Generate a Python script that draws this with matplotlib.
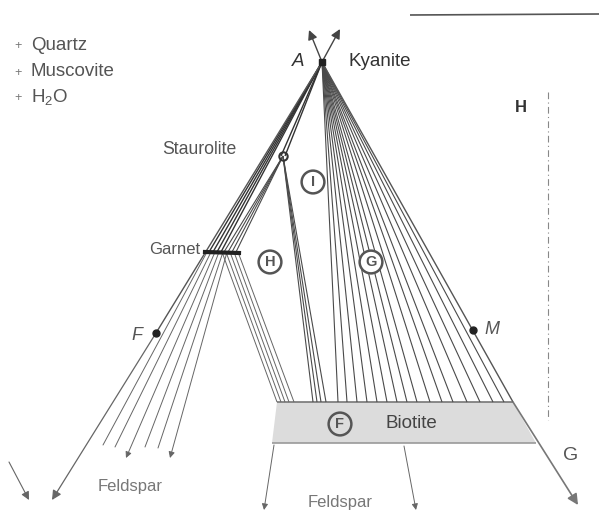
import matplotlib
matplotlib.use("Agg")
import matplotlib.pyplot as plt
from matplotlib.patches import Polygon

plt.rcParams['font.family'] = ['Liberation Sans', 'DejaVu Sans']
plt.rcParams['mathtext.default'] = 'regular'

# 图中各点的位置（像素坐标，y 向下）
kyanite = (322, 62)
staurolite = (283, 156)
point_F = (156, 333)
point_M = (473, 330)
garnet_bar_x = [205, 239]
garnet_y = 252

# 黑云母带（上边、下边）
biotite_top_y = 402
biotite_bot_y = 443
biotite_top_x = [277, 513]
biotite_bot_x = [272, 536]

# 连线端点
ky_to_garnet_x = [209, 213, 217, 221]
ky_to_biotite_x = [338, 347, 357, 367, 377, 387, 397, 407, 417, 430, 442, 453, 467, 480, 493, 504]
st_to_garnet_x = [224, 228, 232, 236]
st_to_biotite_x = [313, 317, 321, 326]
ga_to_biotite = [(222, 277), (226, 281), (230, 285), (234, 289), (238, 294)]
ga_to_feldspar = [(207, 103, 445), (211, 115, 447), (215, 126, 458),
                  (219, 145, 447), (223, 158, 448), (227, 170, 458)]
feldspar_arrow_heads = [False, False, True, False, False, True]
biotite_arrows = [((274, 445), (264, 510)), ((404, 446), (416, 510))]
end_F = (52, 500)
end_M = (578, 505)
up_arrows = [(309, 30), (340, 29)]
stray_arrow = ((9, 462), (29, 500))

# 左上角的附加相
extra_phases = ['Quartz', 'Muscovite', 'H$_2$O']
extra_y = [45, 72, 97]

line_c = '#4a4a4a'
txt_c = '#555555'

fig = plt.figure(figsize=(5.99, 5.15), dpi=100)
ax = fig.add_axes([0, 0, 1, 1])
ax.set_xlim(0, 599)
ax.set_ylim(515, 0)
ax.axis('off')


def seg(p, q, lw=0.8, c=line_c, z=2):
    ax.plot([p[0], q[0]], [p[1], q[1]], color=c, lw=lw, zorder=z, solid_capstyle='butt')


def arrow(p, q, lw=0.8, c='#666666', head=True, ms=12):
    style = '-|>' if head else '-'
    ax.annotate('', xy=q, xytext=p,
                arrowprops=dict(arrowstyle=style, color=c, lw=lw, mutation_scale=ms,
                                shrinkA=0, shrinkB=0))


# 黑云母带
band = Polygon([(biotite_top_x[0], biotite_top_y), (biotite_top_x[1], biotite_top_y),
                (biotite_bot_x[1], biotite_bot_y), (biotite_bot_x[0], biotite_bot_y)],
               closed=True, fc='#dcdcdc', ec='none', zorder=1)
ax.add_patch(band)
seg((biotite_top_x[0], biotite_top_y), (biotite_top_x[1], biotite_top_y), lw=1.2, c='#777777')
seg((biotite_bot_x[0], biotite_bot_y), (biotite_bot_x[1], biotite_bot_y), lw=1.2, c='#999999')

# 蓝晶石 -> 石榴子石 / 黑云母
for x in ky_to_garnet_x:
    seg(kyanite, (x, garnet_y), lw=1.0, c='#333333')
for x in ky_to_biotite_x:
    seg(kyanite, (x, biotite_top_y))
for dx in [-2, 2]:
    seg(kyanite, (staurolite[0] + dx, staurolite[1]), lw=1.0, c='#333333')

# 十字石
for x in st_to_garnet_x:
    seg(staurolite, (x, garnet_y))
for x in st_to_biotite_x:
    seg(staurolite, (x, biotite_top_y))

# 石榴子石 -> 黑云母
for gx, bx in ga_to_biotite:
    seg((gx, garnet_y), (bx, biotite_top_y), lw=0.7, c='#666666')

# 石榴子石 -> 长石
for (gx, fx, fy), hd in zip(ga_to_feldspar, feldspar_arrow_heads):
    arrow((gx, garnet_y), (fx, fy), lw=0.7, head=hd, ms=9)

# 外侧两条边
seg(kyanite, point_F, lw=1.0, c='#555555')
arrow(point_F, end_F, lw=0.9, ms=14)
seg(kyanite, (biotite_top_x[1], biotite_top_y), lw=1.0, c='#555555')
arrow((biotite_top_x[1], biotite_top_y), end_M, lw=1.2, c='#777777', ms=16)

# 向上的箭头
for tip in up_arrows:
    arrow(kyanite, tip, lw=1.0, c='#444444', ms=14)
arrow(stray_arrow[0], stray_arrow[1], lw=0.8, ms=12)
for p, q in biotite_arrows:
    arrow(p, q, lw=0.7, ms=9)

# 点
ax.plot([garnet_bar_x[0], garnet_bar_x[1]], [garnet_y, garnet_y + 1], color='#222222', lw=3, zorder=3)
ax.plot(*staurolite, marker='o', ms=6, mfc='none', mec='#333333', mew=1.5, zorder=3)
ax.plot(*kyanite, marker='s', ms=4, color='#222222', zorder=3)
ax.plot(*point_F, marker='o', ms=5, color='#222222', zorder=3)
ax.plot(*point_M, marker='o', ms=5, color='#222222', zorder=3)

# 扫描痕迹：顶部横线和右侧虚线
seg((410, 15), (599, 14), lw=1.2, c='#555555')
ax.plot([548, 548], [92, 420], color='#888888', lw=0.8, ls=(0, (6, 3, 1, 3)))

# 文字
for s, y in zip(extra_phases, extra_y):
    ax.text(18, y + 1, '+', fontsize=9, color='#777777', ha='center', va='center')
    ax.text(31, y, s, fontsize=13.5, color=txt_c, va='center')
ax.text(298, 62, 'A', fontsize=13.5, style='italic', color='#333333', ha='center', va='center')
ax.text(348, 62, 'Kyanite', fontsize=13.5, color='#333333', va='center')
ax.text(199, 150, 'Staurolite', fontsize=12.7, color=txt_c, ha='center', va='center')
ax.text(175, 250, 'Garnet', fontsize=12, color=txt_c, ha='center', va='center')
ax.text(137, 336, 'F', fontsize=13, style='italic', color=txt_c, ha='center', va='center')
ax.text(492, 330, 'M', fontsize=13, style='italic', color=txt_c, ha='center', va='center')
ax.text(521, 108, 'H', fontsize=12, fontweight='bold', color='#333333', ha='center', va='center')
ax.text(571, 455, 'G', fontsize=14, color=txt_c, ha='center', va='center')
ax.text(130, 487, 'Feldspar', fontsize=12, color='#777777', ha='center', va='center')
ax.text(340, 502, 'Feldspar', fontsize=12, color='#777777', ha='center', va='center')
ax.text(411, 424, 'Biotite', fontsize=13.5, color='#444444', ha='center', va='center')

circle_labels = {'I': (313, 182), 'H': (270, 262), 'G': (371, 262), 'F': (340, 424)}
for s, (x, y) in circle_labels.items():
    ax.text(x, y, s, fontsize=10.5, fontweight='bold', color='#555555', ha='center', va='center',
            bbox=dict(boxstyle='circle,pad=0.3', fc='white' if s != 'F' else '#dcdcdc',
                      ec='#555555', lw=1.8), zorder=5)

fig.savefig('out.png', dpi=100)
